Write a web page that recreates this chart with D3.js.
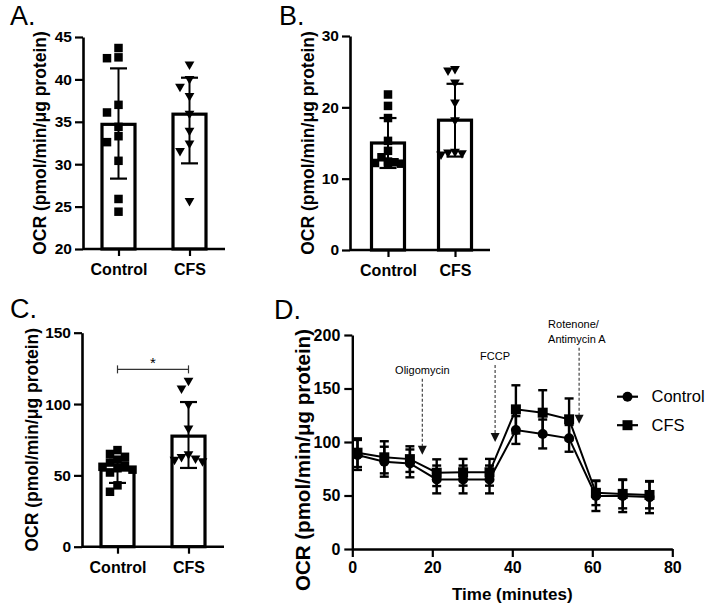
<!DOCTYPE html>
<html><head><meta charset="utf-8">
<script src="https://cdn.jsdelivr.net/npm/d3@7"></script>
<style>body{margin:0;background:#fff} svg text{font-family:"Liberation Sans",Arial,sans-serif;fill:#000}</style>
</head><body><svg id="c" width="709" height="609"></svg>
<script>
// ---------- DATA ----------
const groups = ["Control", "CFS"];

// Panel A
const ticksA = [20, 25, 30, 35, 40, 45];
const meanA = [34.7, 35.9];
const errHiA = [41.3, 40.2];
const errLoA = [28.3, 30.1];
const ptsA_Control = [43.7, 42.6, 42.5, 37.0, 36.1, 34.4, 33.3, 32.6, 30.4, 25.9, 24.4];
const ptsA_CFS = [41.6, 39.9, 39.0, 37.9, 35.8, 33.8, 32.3, 31.4, 25.5];

// Panel B
const ticksB = [0, 10, 20, 30];
const meanB = [15.0, 18.2];
const errHiB = [18.5, 23.3];
const errLoB = [11.5, 13.1];
const ptsB_Control = [21.8, 20.2, 18.5, 15.3, 13.9, 13.0, 12.2, 12.0, 12.3, 12.1, 12.4];
const ptsB_CFS = [25.2, 25.0, 23.3, 20.5, 18.0, 13.6, 13.4, 13.2, 13.5];

// Panel C
const ticksC = [0, 50, 100, 150];
const meanC = [53.7, 77.5];
const errHiC = [62.7, 101.4];
const errLoC = [44.7, 55.2];
const ptsC_Control = [67.7, 65, 63, 61, 59, 57, 56, 55, 54, 52, 43, 38.5];
const ptsC_CFS = [115.5, 110, 99, 82, 64, 62, 61, 60, 59];
const sigC = 124.3;

// Panel D
const ticksDx = [0, 20, 40, 60, 80];
const ticksDy = [0, 50, 100, 150, 200];
const timeD = [1.3, 8, 14.4, 21.1, 27.7, 34.3, 40.9, 47.6, 54.2, 60.9, 67.6, 74.3];
const ctrlD = [87.9, 81.6, 80.0, 65.0, 65.0, 65.0, 111.2, 107.5, 103.4, 49.5, 49.5, 48.5];
const ctrlSD = [14, 14, 13, 13, 13, 13, 13, 13.5, 12.5, 14, 15, 15];
const cfsD = [90.0, 85.7, 84.0, 71.3, 71.7, 71.7, 130.5, 127.4, 121.2, 52.5, 51.5, 50.5];
const cfsSD = [13.4, 15, 12, 12.5, 12.5, 12.5, 22.5, 21, 19.5, 11.5, 13.5, 12.5];
const annoLabels = [["Oligomycin"], ["FCCP"], ["Rotenone/", "Antimycin  A"]];
const annoTime = [17.5, 35.7, 56.7];
const annoTip = [88, 100, 117];
const annoTop = [159, 172, 188];

// ---------- DRAW ----------
const svg = d3.select("#c");
const titleText = "OCR (pmol/min/μg protein)";

function marker(sel, shape, size) {
  if (shape === "square") {
    sel.append("rect").attr("x", -size/2).attr("y", -size/2).attr("width", size).attr("height", size).attr("fill", "#000");
  } else if (shape === "tri") {
    const w = size * 1.15, h = size;
    sel.append("path").attr("d", `M${-w/2},${-h/2}L${w/2},${-h/2}L0,${h/2}Z`).attr("fill", "#000");
  } else {
    sel.append("circle").attr("r", size/2).attr("fill", "#000");
  }
}

// simple scatter spread: each point takes the nearest free column, columns limited to +-maxSlot
function swarm(values, y, size, step, maxSlot) {
  const order = values.map((v, i) => i).sort((a, b) => values[b] - values[a]);
  const placed = [];
  const res = new Array(values.length);
  const slots = [0];
  for (let k = 1; k <= maxSlot; k++) slots.push(-k, k);
  order.forEach(i => {
    const py = y(values[i]);
    let best = null, bestN = Infinity;
    for (const s of slots) {
      const px = s * step;
      const n = placed.filter(p => Math.abs(p.x - px) < step * 0.9 && Math.abs(p.y - py) < size * 0.95).length;
      if (n < bestN) { bestN = n; best = px; }
      if (n === 0) break;
    }
    placed.push({x: best, y: py}); res[i] = {dx: best, y: py};
  });
  return res;
}

function barPanel(o) {
  const g = svg.append("g");
  const x = d3.scalePoint().domain(groups).range([o.x0, o.x1]).padding(o.pad);
  const y = d3.scaleLinear().domain([o.ticks[0], o.ticks[o.ticks.length-1]]).range([o.y0, o.y1]);
  const bw = o.bw;
  g.selectAll(".bar").data(groups).join("rect")
    .attr("x", d => x(d) - bw/2).attr("width", bw)
    .attr("y", (d, i) => y(o.mean[i])).attr("height", (d, i) => y(o.ticks[0]) - y(o.mean[i]))
    .attr("fill", "#fff").attr("stroke", "#000").attr("stroke-width", 3.2);
  [o.ptsCtrl, o.ptsCfs].forEach((pts, gi) => {
    const pos = swarm(pts, y, o.msize, o.step[gi], o.maxSlot[gi]);
    pos.forEach(p => {
      const m = g.append("g").attr("transform", `translate(${x(groups[gi]) + p.dx},${p.y})`);
      marker(m, gi === 0 ? "square" : "tri", o.msize);
    });
  });
  groups.forEach((d, i) => {
    const cx = x(d), cw = o.cap;
    g.append("line").attr("x1", cx).attr("x2", cx).attr("y1", y(o.hi[i])).attr("y2", y(o.lo[i])).attr("stroke", "#000").attr("stroke-width", 2);
    [o.hi[i], o.lo[i]].forEach(v => g.append("line").attr("x1", cx - cw/2).attr("x2", cx + cw/2).attr("y1", y(v)).attr("y2", y(v)).attr("stroke", "#000").attr("stroke-width", 2.2));
  });
  const ya = g.append("g").attr("transform", `translate(${o.x0},0)`)
    .call(d3.axisLeft(y).tickValues(o.ticks).tickSize(8).tickPadding(3).tickSizeOuter(0));
  ya.select(".domain").attr("stroke-width", 2.6);
  ya.selectAll(".tick line").attr("stroke-width", 2.2);
  ya.selectAll("text").attr("font-size", 15.5).attr("font-weight", "bold").attr("fill", "#000");
  const xa = g.append("g").attr("transform", `translate(0,${o.y0})`)
    .call(d3.axisBottom(x).tickSize(7).tickPadding(8).tickSizeOuter(0));
  xa.select(".domain").attr("stroke-width", 2.6).attr("d", `M${o.x0},0H${o.xEnd}`);
  xa.selectAll(".tick line").attr("stroke-width", 2.2);
  xa.selectAll("text").attr("font-size", 16).attr("font-weight", "bold").attr("fill", "#000");
  g.append("text").attr("transform", `translate(${o.tx},${(o.y0 + o.y1)/2}) rotate(-90)`)
    .attr("text-anchor", "middle").attr("font-size", o.tfs).attr("font-weight", "bold").text(titleText);
  g.append("text").attr("x", o.lx).attr("y", o.ly).attr("font-size", 27).text(o.letter);
  return {g, x, y};
}

barPanel({x0: 83, x1: 225, xEnd: 225, pad: 0.5, y0: 249, y1: 37, ticks: ticksA, mean: meanA, hi: errHiA, lo: errLoA,
  ptsCtrl: ptsA_Control, ptsCfs: ptsA_CFS, bw: 33, msize: 8.5, step: [11.5, 9.5], maxSlot: [1, 1], cap: 17, tx: 46, tfs: 17.5, lx: 10, ly: 25, letter: "A."});
barPanel({x0: 350, x1: 493, xEnd: 490, pad: 0.567, y0: 250, y1: 36, ticks: ticksB, mean: meanB, hi: errHiB, lo: errLoB,
  ptsCtrl: ptsB_Control, ptsCfs: ptsB_CFS, bw: 33, msize: 8.5, step: [6.5, 7], maxSlot: [2, 2], cap: 17, tx: 314, tfs: 17.5, lx: 279, ly: 25, letter: "B."});
const pc = barPanel({x0: 82, x1: 224, xEnd: 224, pad: 0.5, y0: 546.7, y1: 332.7, ticks: ticksC, mean: meanC, hi: errHiC, lo: errLoC,
  ptsCtrl: ptsC_Control, ptsCfs: ptsC_CFS, bw: 33, msize: 8.5, step: [7.5, 7], maxSlot: [2, 2], cap: 17, tx: 38, tfs: 17.5, lx: 10, ly: 318, letter: "C."});
{
  const yy = pc.y(sigC), xa = pc.x(groups[0]), xb = pc.x(groups[1]);
  pc.g.append("line").attr("x1", xa).attr("x2", xb).attr("y1", yy).attr("y2", yy).attr("stroke", "#333").attr("stroke-width", 1.2);
  [xa, xb].forEach(xx => pc.g.append("line").attr("x1", xx).attr("x2", xx).attr("y1", yy - 4).attr("y2", yy + 4).attr("stroke", "#333").attr("stroke-width", 1.2));
  pc.g.append("text").attr("x", (xa + xb)/2).attr("y", yy - 1).attr("text-anchor", "middle").attr("font-size", 15).text("*");
}

// Panel D
{
  const g = svg.append("g");
  const x = d3.scaleLinear().domain([0, 80]).range([352.3, 672.3]);
  const y = d3.scaleLinear().domain([0, 200]).range([549, 335]);
  const xa = g.append("g").attr("transform", `translate(0,${y(0)})`).call(d3.axisBottom(x).tickValues(ticksDx).tickSize(8).tickPadding(5).tickSizeOuter(0));
  const ya = g.append("g").attr("transform", `translate(${x(0)},0)`).call(d3.axisLeft(y).tickValues(ticksDy).tickSize(8).tickPadding(4).tickSizeOuter(0));
  [xa, ya].forEach(a => {
    a.select(".domain").attr("stroke-width", 2.4);
    a.selectAll(".tick line").attr("stroke-width", 2.2);
    a.selectAll("text").attr("font-size", 16).attr("font-weight", "bold").attr("fill", "#000");
  });
  g.append("text").attr("x", (x(0) + x(80))/2).attr("y", 600).attr("text-anchor", "middle").attr("font-size", 17).attr("font-weight", "bold").text("Time (minutes)");
  g.append("text").attr("transform", `translate(310,${(y(0) + y(200))/2 + 18}) rotate(-90)`)
    .attr("text-anchor", "middle").attr("font-size", 20.5).attr("font-weight", "bold").text(titleText);
  g.append("text").attr("x", 274).attr("y", 319).attr("font-size", 27).text("D.");

  const series = [{v: cfsD, sd: cfsSD, shape: "square"}, {v: ctrlD, sd: ctrlSD, shape: "circle"}];
  series.forEach(s => {
    timeD.forEach((t, i) => {
      const cx = x(t);
      g.append("line").attr("x1", cx).attr("x2", cx).attr("y1", y(s.v[i] + s.sd[i])).attr("y2", y(s.v[i] - s.sd[i])).attr("stroke", "#000").attr("stroke-width", 2.4);
      [s.v[i] + s.sd[i], s.v[i] - s.sd[i]].forEach(v => g.append("line").attr("x1", cx - 4.5).attr("x2", cx + 4.5).attr("y1", y(v)).attr("y2", y(v)).attr("stroke", "#000").attr("stroke-width", 2.4));
    });
  });
  series.forEach(s => {
    g.append("path").datum(timeD.map((t, i) => [t, s.v[i]]))
      .attr("d", d3.line().x(d => x(d[0])).y(d => y(d[1]))).attr("fill", "none").attr("stroke", "#000").attr("stroke-width", 2);
    timeD.forEach((t, i) => marker(g.append("g").attr("transform", `translate(${x(t)},${y(s.v[i])})`), s.shape, 10));
  });
  annoLabels.forEach((lab, i) => {
    const ax = x(annoTime[i]), yTop = y(annoTop[i]), yTip = y(annoTip[i]);
    g.append("line").attr("x1", ax).attr("x2", ax).attr("y1", yTop).attr("y2", yTip - 8).attr("stroke", "#333").attr("stroke-width", 1.1).attr("stroke-dasharray", "3,2");
    g.append("path").attr("d", `M${ax - 4.5},${yTip - 9}L${ax + 4.5},${yTip - 9}L${ax},${yTip}Z`).attr("fill", "#111");
    const multi = lab.length > 1;
    lab.forEach((l, j) => {
      g.append("text").attr("x", multi ? ax - 31 : ax).attr("y", yTop - 5 - (lab.length - 1 - j) * 15)
        .attr("text-anchor", multi ? "start" : "middle").attr("font-size", 11).attr("fill", "#222").text(l);
    });
  });
  const leg = [{name: "Control", shape: "circle"}, {name: "CFS", shape: "square"}];
  leg.forEach((l, i) => {
    const ly = 396.7 + i * 28.5;
    g.append("line").attr("x1", 617).attr("x2", 638).attr("y1", ly).attr("y2", ly).attr("stroke", "#000").attr("stroke-width", 2.2);
    marker(g.append("g").attr("transform", `translate(627.5,${ly})`), l.shape, 10);
    g.append("text").attr("x", 651.5).attr("y", ly + 5.5).attr("font-size", 16.5).text(l.name);
  });
}
</script></body></html>
